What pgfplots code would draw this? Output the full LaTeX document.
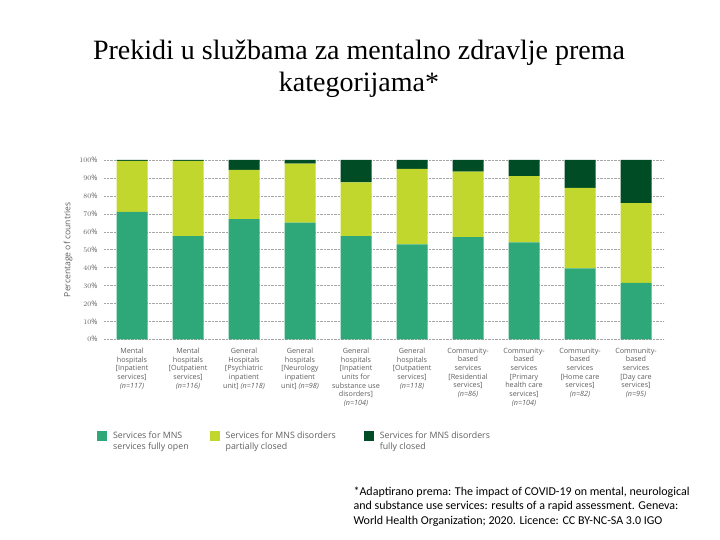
\documentclass[border=0pt]{standalone}
\usepackage{fontspec}
\setmainfont{Liberation Serif}
\newfontfamily\osans{Open Sans}
\newfontfamily\carl{Carlito}
\usepackage{pgfplots}
\pgfplotsset{compat=1.18}
\definecolor{cOpen}{RGB}{46,168,120}
\definecolor{cPart}{RGB}{194,215,46}
\definecolor{cClosed}{RGB}{0,77,37}
\definecolor{lblgray}{RGB}{95,95,95}
\begin{document}
\begin{tikzpicture}
\useasboundingbox (0pt,0pt) rectangle (720pt,540pt);
\node[align=center, font=\fontsize{28}{32}\selectfont] at (359pt,471pt) {Prekidi u službama za mentalno zdravlje prema\\kategorijama*};
\begin{axis}[
  at={(104pt,200.7pt)}, anchor=south west,
  scale only axis, width=560pt, height=179.3pt,
  ybar stacked, bar width=31pt,
  xmin=-0.5, xmax=9.5, ymin=0, ymax=100,
  axis line style={draw=none}, tick style={draw=none},
  ymajorgrids, grid style={densely dotted, gray!70},
  ytick={0,10,...,100},
  yticklabel={\pgfmathprintnumber{\tick}\%},
  yticklabel style={xshift=-3pt, font=\osans\fontsize{7.5}{9}\selectfont\color{lblgray}},
  ylabel={Percentage of countries},
  ylabel style={at={(axis description cs:-0.064,0.5)}, anchor=center, font=\osans\fontsize{8.6}{10}\selectfont\color{lblgray}},
  xtick={0,...,9},
  xticklabels={
    {Mental\\hospitals\\{[}Inpatient\\services{]}\\\textit{(n=117)}},
    {Mental\\hospitals\\{[}Outpatient\\services{]}\\\textit{(n=116)}},
    {General\\Hospitals\\{[}Psychiatric\\inpatient\\unit{]} \textit{(n=118)}},
    {General\\hospitals\\{[}Neurology\\inpatient\\unit{]} \textit{(n=98)}},
    {General\\hospitals\\{[}Inpatient\\units for\\substance use\\disorders{]}\\\textit{(n=104)}},
    {General\\hospitals\\{[}Outpatient\\services{]}\\\textit{(n=118)}},
    {Community-\\based\\services\\{[}Residential\\services{]}\\\textit{(n=86)}},
    {Community-\\based\\services\\{[}Primary\\health care\\services{]}\\\textit{(n=104)}},
    {Community-\\based\\services\\{[}Home care\\services{]}\\\textit{(n=82)}},
    {Community-\\based\\services\\{[}Day care\\services{]}\\\textit{(n=95)}}
  },
  xticklabel style={yshift=-5pt, align=center, font=\osans\fontsize{7.2}{8.7}\selectfont\color{lblgray}},
  legend style={at={(rel axis cs:-0.018,-0.49)}, anchor=north west, legend columns=3, draw=none, fill=none,
    font=\osans\fontsize{8.8}{11}\selectfont\color{lblgray},
    cells={align=left, anchor=west},
    /tikz/column 2/.style={column sep=19pt},
    /tikz/column 4/.style={column sep=26pt}},
  legend image code/.code={\path[draw=none,fill=none] (0pt,0pt) rectangle (14pt,1pt);\fill[#1,draw=none] (0pt,-0.5pt) rectangle (10pt,9.5pt);},
]
\addplot[fill=cOpen, draw=none] coordinates {(0,71) (1,57.5) (2,67) (3,65) (4,57.5) (5,53) (6,57) (7,54) (8,39.5) (9,31.5)};
\addplot[fill=cPart, draw=none] coordinates {(0,28.5) (1,42) (2,27.5) (3,33) (4,30) (5,42) (6,36.5) (7,37) (8,45) (9,44.5)};
\addplot[fill=cClosed, draw=none] coordinates {(0,0.5) (1,0.5) (2,5.5) (3,2) (4,12.5) (5,5) (6,6.5) (7,9) (8,15.5) (9,24)};
\addlegendentry{Services for MNS\\services fully open}
\addlegendentry{Services for MNS disorders\\partially closed}
\addlegendentry{Services for MNS disorders\\fully closed}
\end{axis}
\node[anchor=north west, align=left, font=\carl\fontsize{12}{14.5}\selectfont] at (350pt,57pt) {*Adaptirano prema: The impact of COVID-19 on mental, neurological\\and substance use services: results of a rapid assessment. Geneva:\\World Health Organization; 2020. Licence: CC BY-NC-SA 3.0 IGO};
\end{tikzpicture}
\end{document}
